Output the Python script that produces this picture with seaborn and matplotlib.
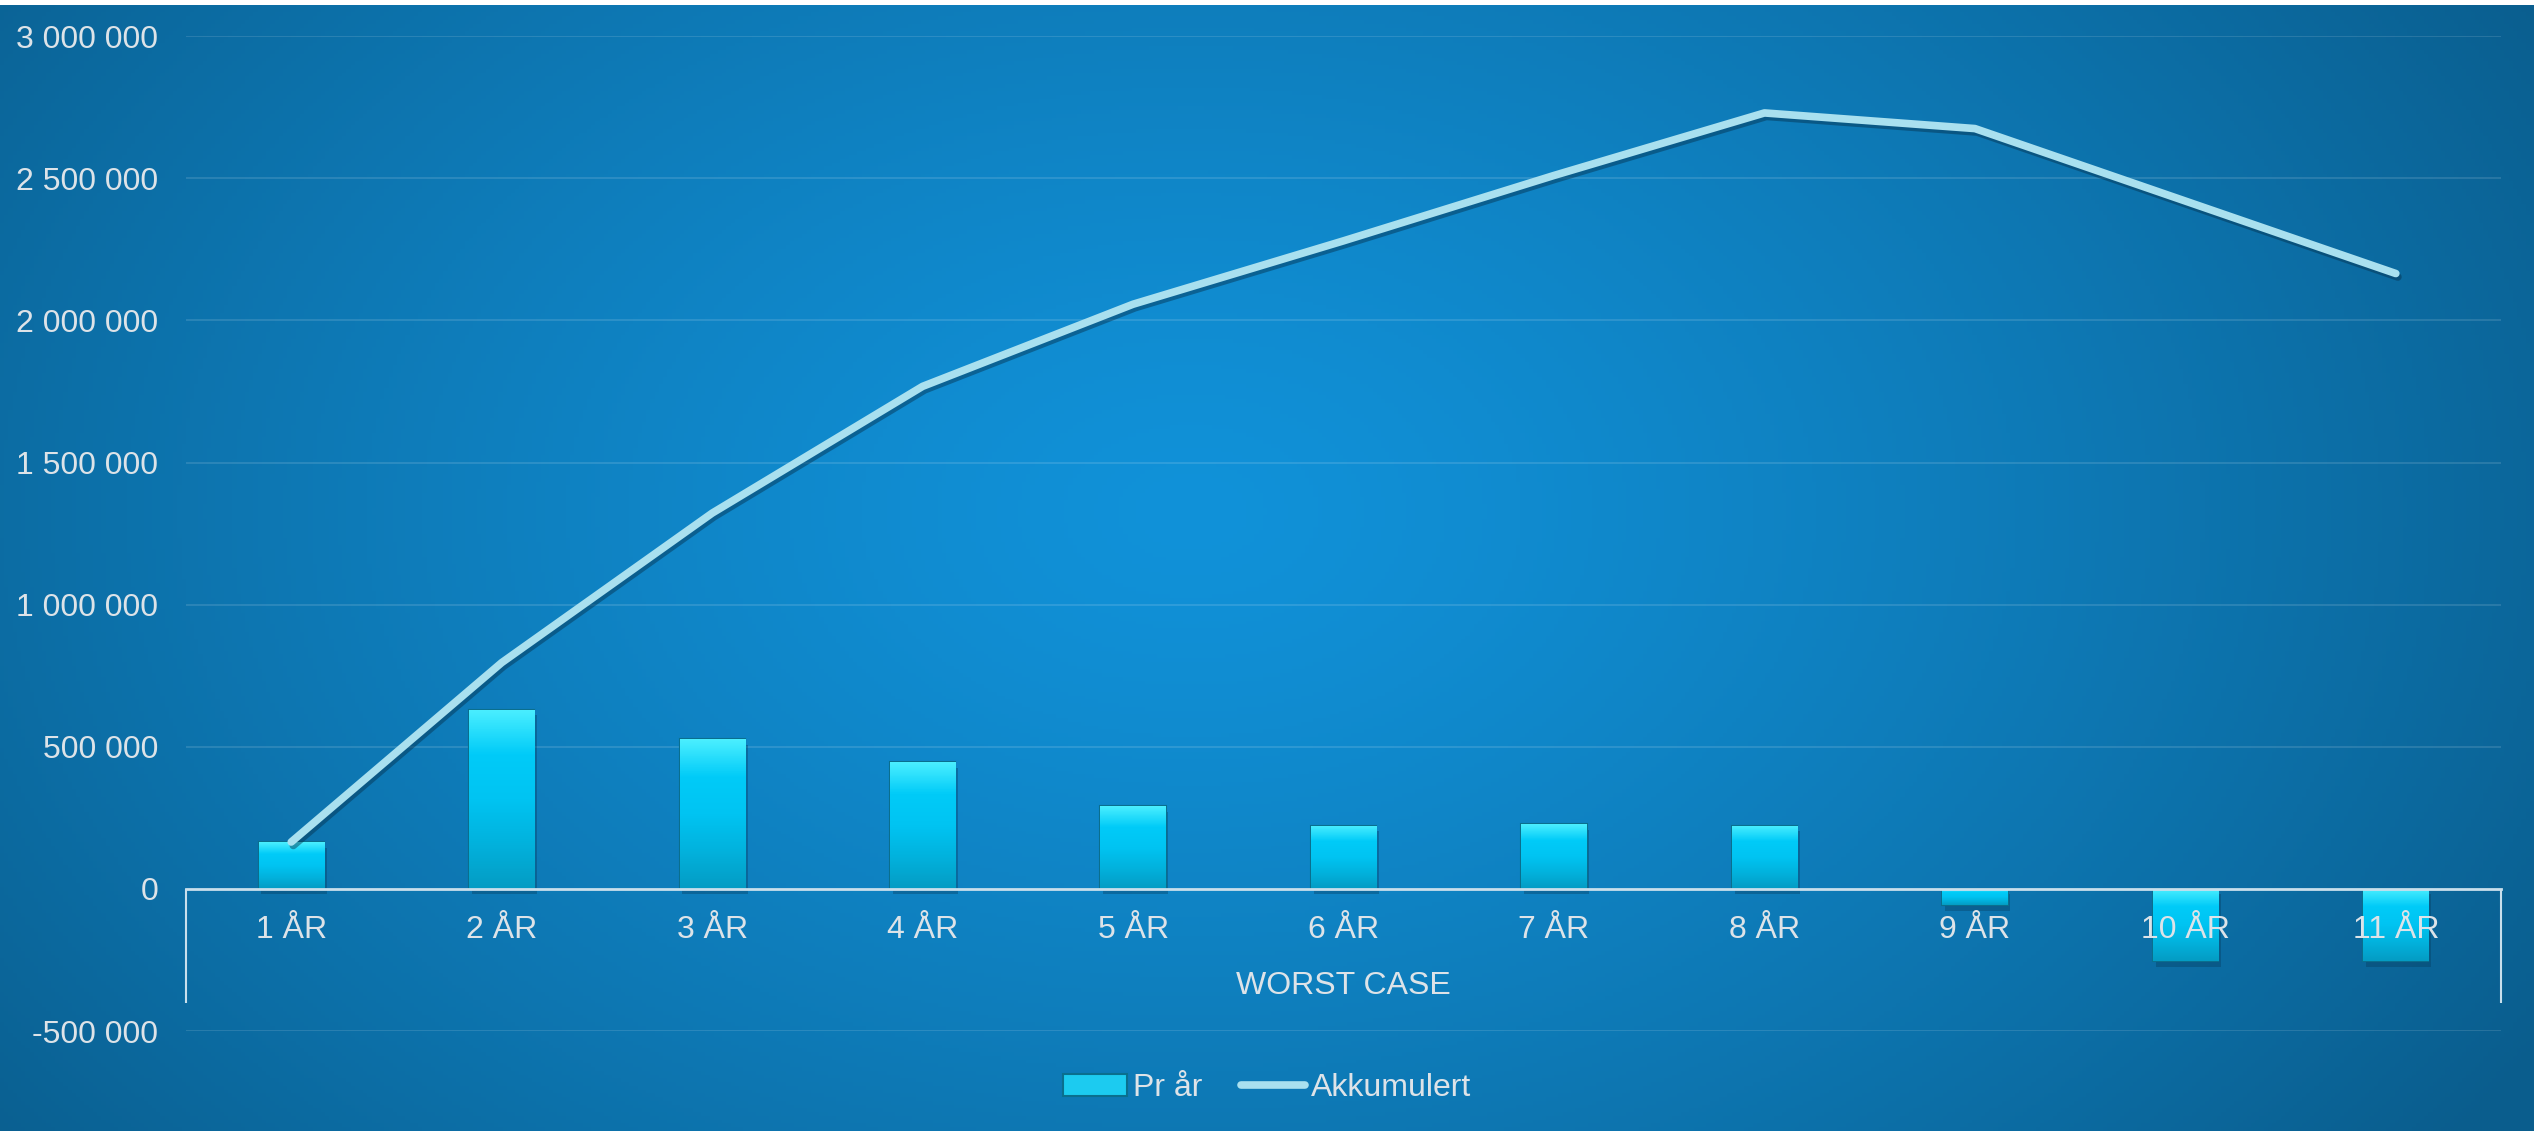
import matplotlib
matplotlib.use("Agg")
import matplotlib.pyplot as plt
import matplotlib.patheffects as pe
from matplotlib.patches import Patch
from matplotlib.lines import Line2D
from matplotlib.colors import LinearSegmentedColormap, to_rgb
import numpy as np
import pandas as pd
import seaborn as sns

# values
years = ["1 ÅR", "2 ÅR", "3 ÅR", "4 ÅR", "5 ÅR", "6 ÅR", "7 ÅR", "8 ÅR", "9 ÅR", "10 ÅR", "11 ÅR"]
per_year = [165000, 631000, 526000, 445000, 290000, 222000, 227000, 222000, -58000, -255000, -255000]
cumulative = [165000, 796000, 1322000, 1768000, 2057000, 2280000, 2510000, 2730000, 2675000, 2420000, 2165000]
y_ticks = [-500000, 0, 500000, 1000000, 1500000, 2000000, 2500000, 3000000]
group_label = "WORST CASE"
bar_label = "Pr år"
line_label = "Akkumulert"

df = pd.DataFrame({"year": years, "per_year": per_year, "cumulative": cumulative})
df["pos"] = range(len(df))

sns.set_theme(style="white")
plt.rcParams["font.family"] = ["Liberation Sans", "DejaVu Sans"]

text_col = "#dde3e8"
line_col = "#a9e0ef"
fs = 23

fig = plt.figure(figsize=(25.34, 11.31), dpi=100, facecolor="white")

# radial blue background
bg = fig.add_axes([0, 0, 1, 1 - 5 / 1131])
gy, gx = np.mgrid[0:1:300j, 0:1:600j]
d = np.sqrt(((gx - 0.47) / 0.62) ** 2 + ((gy - 0.45) / 0.95) ** 2)
d = np.clip(d, 0, 1) ** 1.3
c_in = np.array(to_rgb("#1192d9"))
c_out = np.array(to_rgb("#0a5d8d"))
img = c_in[None, None, :] * (1 - d[..., None]) + c_out[None, None, :] * d[..., None]
bg.imshow(img, aspect="auto", extent=[0, 1, 1, 0])
bg.set_axis_off()

ax = fig.add_axes([0.0734, 0.0884, 0.9136, 0.8796])
ax.set_facecolor("none")

sns.barplot(data=df, x="year", y="per_year", width=0.31, color="#08bbe6",
            edgecolor="#0a6f8e", linewidth=1.5, ax=ax, zorder=2)

bar_cmap = LinearSegmentedColormap.from_list(
    "bar", ["#049cc4", "#02b2dd", "#00c4f2", "#00cbf8", "#4aeeff"])
grad = np.linspace(0, 1, 80).reshape(-1, 1)
for bar in list(ax.patches):
    x0, w = bar.get_x(), bar.get_width()
    y0, h = bar.get_y(), bar.get_height()
    lo, hi = min(y0, y0 + h), max(y0, y0 + h)
    bar.set_path_effects([pe.SimplePatchShadow(offset=(2, -4), shadow_rgbFace="#063a5a", alpha=0.35),
                          pe.Normal()])
    im = ax.imshow(grad, cmap=bar_cmap, extent=[x0, x0 + w, lo, hi],
                   origin="lower", aspect="auto", zorder=2.05)
    im.set_clip_path(bar)

sns.lineplot(data=df, x="pos", y="cumulative", color=line_col, linewidth=5.5,
             solid_capstyle="round", solid_joinstyle="round", ax=ax, zorder=3,
             path_effects=[pe.SimpleLineShadow(offset=(1.5, -2.5), shadow_color="#05304c", alpha=0.45),
                           pe.Normal()])

ax.set_xlim(-0.5, len(years) - 0.5)
ax.set_ylim(y_ticks[0], y_ticks[-1])

for t in y_ticks:
    if t != 0:
        ax.axhline(t, color="white", alpha=0.12, lw=1.5, zorder=0.5)

for s in ["left", "right", "top"]:
    ax.spines[s].set_visible(False)
ax.spines["bottom"].set_position(("data", 0))
ax.spines["bottom"].set_color("#c9dfec")
ax.spines["bottom"].set_linewidth(2)
ax.spines["bottom"].set_zorder(2.6)
ax.vlines([-0.5, len(years) - 0.5], -400000, 0, colors="#c9dfec", lw=1.5, clip_on=False)

ax.set_axisbelow(False)
ax.set_xticks(df["pos"], labels=years)
ax.set_yticks(y_ticks, labels=[f"{v:,.0f}".replace(",", " ") for v in y_ticks])
ax.tick_params(axis="x", length=0, pad=19, labelsize=fs, labelcolor=text_col)
ax.tick_params(axis="y", length=0, pad=20, labelsize=fs, labelcolor=text_col)
ax.set_xlabel("")
ax.set_ylabel("")
ax.grid(False)

ax.text((len(years) - 1) / 2, -340000, group_label, ha="center", va="center",
        fontsize=fs, color=text_col)

handles = [Patch(facecolor="#1ccbf0", edgecolor="#0a6f8e", linewidth=1.5, label=bar_label),
           Line2D([0], [0], color=line_col, lw=5.5, solid_capstyle="round", label=line_label)]
leg = fig.legend(handles=handles, loc="center", bbox_to_anchor=(0.5, 0.038), ncol=2,
                 frameon=False, fontsize=fs, handlelength=2.0, handletextpad=0.2,
                 columnspacing=1.2)
for t in leg.get_texts():
    t.set_color(text_col)

fig.savefig("out.png", dpi=100, facecolor=fig.get_facecolor())
